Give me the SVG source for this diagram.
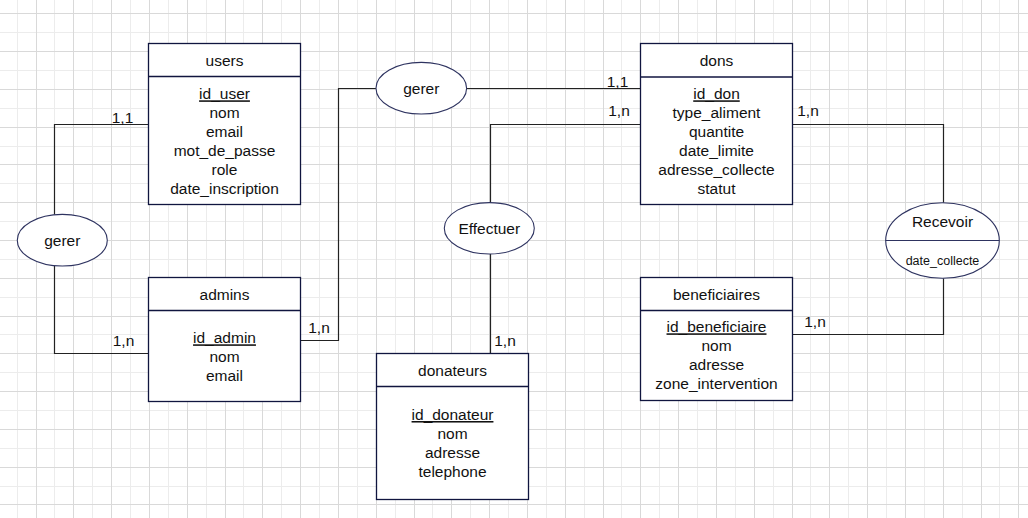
<svg xmlns="http://www.w3.org/2000/svg" width="1028" height="518" viewBox="0 0 1028 518">
<style>
.gl{stroke:#ececec;stroke-width:1;fill:none}
.gd{stroke:#d9d9d9;stroke-width:1;fill:none}
.box{fill:#fff;stroke:#10153f;stroke-width:1.3}
.div{stroke:#10153f;stroke-width:1.3}
.ell{fill:#fff;stroke:#2e3360;stroke-width:1.1}
.con{fill:none;stroke:#222;stroke-width:1.2}
text{font-family:"Liberation Sans",Arial,sans-serif;font-size:15.5px;fill:#111}
.c{text-anchor:middle}
.u{text-decoration:underline}
.sm{font-size:12.5px}
</style>
<rect width="1028" height="518" fill="#fff"/>
<g id="grid">
<path class="gl" d="M17.5 0V518M54.5 0V518M92.5 0V518M130.5 0V518M168.5 0V518M206.5 0V518M243.5 0V518M281.5 0V518M319.5 0V518M357.5 0V518M395.5 0V518M432.5 0V518M470.5 0V518M508.5 0V518M546.5 0V518M584.5 0V518M621.5 0V518M659.5 0V518M697.5 0V518M735.5 0V518M773.5 0V518M810.5 0V518M848.5 0V518M886.5 0V518M924.5 0V518M962.5 0V518M999.5 0V518M0 32.5H1028M0 70.5H1028M0 108.5H1028M0 146.5H1028M0 183.5H1028M0 221.5H1028M0 259.5H1028M0 297.5H1028M0 334.5H1028M0 372.5H1028M0 410.5H1028M0 448.5H1028M0 486.5H1028"/>
<path class="gd" d="M36.5 0V518M73.5 0V518M111.5 0V518M149.5 0V518M187.5 0V518M225.5 0V518M262.5 0V518M300.5 0V518M338.5 0V518M376.5 0V518M414.5 0V518M451.5 0V518M489.5 0V518M527.5 0V518M565.5 0V518M603.5 0V518M640.5 0V518M678.5 0V518M716.5 0V518M754.5 0V518M792.5 0V518M829.5 0V518M867.5 0V518M905.5 0V518M943.5 0V518M981.5 0V518M1018.5 0V518M0 13.5H1028M0 51.5H1028M0 89.5H1028M0 127.5H1028M0 164.5H1028M0 202.5H1028M0 240.5H1028M0 278.5H1028M0 316.5H1028M0 353.5H1028M0 391.5H1028M0 429.5H1028M0 467.5H1028M0 504.5H1028"/>
</g>
<g id="connectors">
<path class="con" d="M148.5 124.5H54.5V214.5"/>
<path class="con" d="M54.5 265.5V353.5H148.5"/>
<path class="con" d="M300.5 340.5H338.5V88.5H376"/>
<path class="con" d="M466.5 88.5H640.5"/>
<path class="con" d="M640.5 124.5H490.5V202.5"/>
<path class="con" d="M490.5 254V353.5"/>
<path class="con" d="M792.5 124.5H943.5V202.7"/>
<path class="con" d="M792.5 334.5H943.5V278.3"/>
<text class="c" x="122.5" y="123">1,1</text>
<text class="c" x="123.5" y="346">1,n</text>
<text class="c" x="319" y="333">1,n</text>
<text class="c" x="617.5" y="87">1,1</text>
<text class="c" x="619" y="116">1,n</text>
<text class="c" x="505" y="346">1,n</text>
<text class="c" x="808" y="116">1,n</text>
<text class="c" x="815" y="327">1,n</text>
</g>
<g id="users">
<rect class="box" x="148.5" y="43.5" width="152" height="161"/>
<line class="div" x1="148.5" y1="76.5" x2="300.5" y2="76.5"/>
<text class="c" x="224.5" y="66">users</text>
<text class="c u" x="224.5" y="99.3">id_user</text>
<text class="c" x="224.5" y="118.3">nom</text>
<text class="c" x="224.5" y="137.3">email</text>
<text class="c" x="224.5" y="156.3">mot_de_passe</text>
<text class="c" x="224.5" y="175.3">role</text>
<text class="c" x="224.5" y="194.3">date_inscription</text>
</g>
<g id="admins">
<rect class="box" x="148.5" y="277.5" width="152" height="124"/>
<line class="div" x1="148.5" y1="310.5" x2="300.5" y2="310.5"/>
<text class="c" x="224.5" y="300">admins</text>
<text class="c u" x="224.5" y="343.3">id_admin</text>
<text class="c" x="224.5" y="362.3">nom</text>
<text class="c" x="224.5" y="381.3">email</text>
</g>
<g id="donateurs">
<rect class="box" x="376.5" y="353.5" width="152" height="146"/>
<line class="div" x1="376.5" y1="386.5" x2="528.5" y2="386.5"/>
<text class="c" x="452.5" y="376">donateurs</text>
<text class="c u" x="452.5" y="420">id_donateur</text>
<text class="c" x="452.5" y="439">nom</text>
<text class="c" x="452.5" y="458">adresse</text>
<text class="c" x="452.5" y="477">telephone</text>
</g>
<g id="dons">
<rect class="box" x="640.5" y="43.5" width="152" height="161"/>
<line class="div" x1="640.5" y1="77" x2="792.5" y2="77"/>
<text class="c" x="716.5" y="66">dons</text>
<text class="c u" x="716.5" y="99.3">id_don</text>
<text class="c" x="716.5" y="118.3">type_aliment</text>
<text class="c" x="716.5" y="137.3">quantite</text>
<text class="c" x="716.5" y="156.3">date_limite</text>
<text class="c" x="716.5" y="175.3">adresse_collecte</text>
<text class="c" x="716.5" y="194.3">statut</text>
</g>
<g id="beneficiaires">
<rect class="box" x="640.5" y="277.5" width="152" height="123"/>
<line class="div" x1="640.5" y1="310.5" x2="792.5" y2="310.5"/>
<text class="c" x="716.5" y="299.5">beneficiaires</text>
<text class="c u" x="716.5" y="332.3">id_beneficiaire</text>
<text class="c" x="716.5" y="351.3">nom</text>
<text class="c" x="716.5" y="370.3">adresse</text>
<text class="c" x="716.5" y="389.3">zone_intervention</text>
</g>
<g id="gerer-left">
<ellipse class="ell" cx="62.3" cy="240.2" rx="45" ry="25.8"/>
<text class="c" x="62.3" y="246">gerer</text>
</g>
<g id="gerer-top">
<ellipse class="ell" cx="421.3" cy="88.2" rx="45.3" ry="25.8"/>
<text class="c" x="421.3" y="94">gerer</text>
</g>
<g id="effectuer">
<ellipse class="ell" cx="489.3" cy="228.3" rx="45" ry="25.7"/>
<text class="c" x="489.3" y="234">Effectuer</text>
</g>
<g id="recevoir">
<ellipse class="ell" cx="942.5" cy="240.5" rx="56.8" ry="37.8"/>
<line class="ell" x1="885.7" y1="240.5" x2="999.3" y2="240.5"/>
<text class="c" x="942.5" y="227.3">Recevoir</text>
<text class="c sm" x="942.5" y="265">date_collecte</text>
</g>
</svg>
